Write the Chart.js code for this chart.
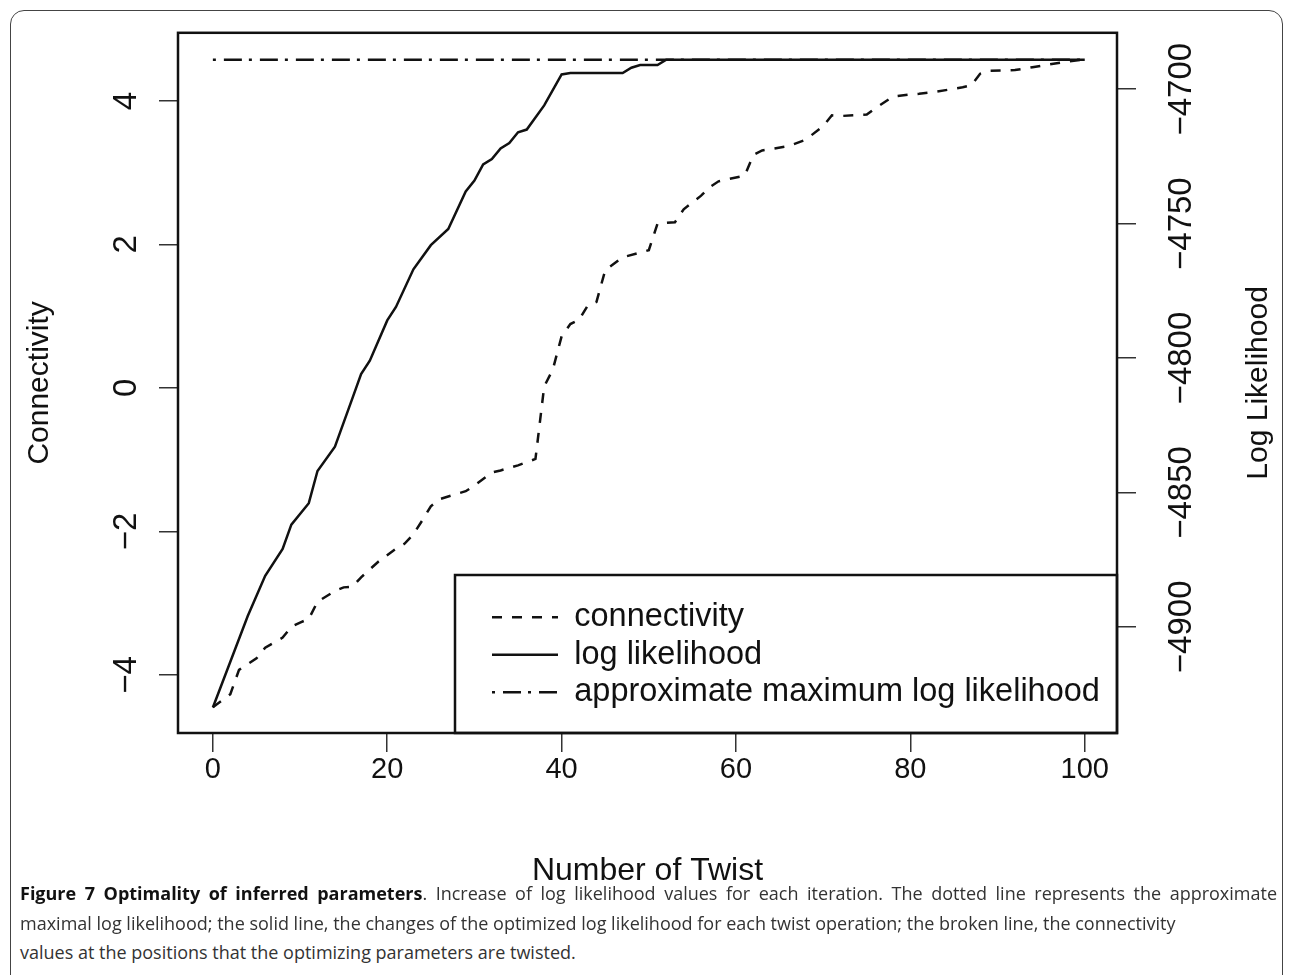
<!DOCTYPE html>
<html>
<head>
<meta charset="utf-8">
<script src="https://cdn.jsdelivr.net/npm/chart.js@4.4.0/dist/chart.umd.min.js"></script>
<style>
  body { margin: 0; background: #fff; width: 1293px; height: 975px; position: relative; overflow: hidden; }
  #frame { position: absolute; left: 10px; top: 10px; width: 1271px; height: 1000px; border: 1.5px solid #444; border-radius: 14px; }
  #myChart { position: absolute; left: 0; top: 0; }
  .cap { position: absolute; left: 20px; font-family: "Open Sans", sans-serif; font-size: 18px; line-height: 20px; white-space: nowrap; color: #333; }
  .cap b { color: #111; }
  .cap.full { width: 1257px; white-space: normal; text-align: justify; text-align-last: justify; }
</style>
</head>
<body>
<div id="frame"></div>
<canvas id="myChart" width="1293" height="900"></canvas>
<div class="cap full" style="top:883px"><b>Figure 7 Optimality of inferred parameters</b>. Increase of log likelihood values for each iteration. The dotted line represents the approximate</div>
<div class="cap" style="top:913px">maximal log likelihood; the solid line, the changes of the optimized log likelihood for each twist operation; the broken line, the connectivity</div>
<div class="cap" style="top:942px">values at the positions that the optimizing parameters are twisted.</div>
<script>
// connectivity at the twist positions (left axis)
var twistConn = [0, 2, 3, 5, 6, 7, 8, 9, 10, 11, 12, 14, 15, 16, 17, 19, 21, 22, 23, 24, 25, 26, 29, 30, 32, 33, 35, 37,
    38, 39, 40, 41, 42, 43, 44, 45, 47, 50, 51, 53, 54, 56, 57, 58, 61, 62, 63, 66, 68, 70, 71, 72, 75, 76, 78, 80,
    81, 83, 86, 87, 88, 89, 92, 94, 98, 100];
var connectivity = [-4.45, -4.27, -3.93, -3.77, -3.62, -3.55, -3.48, -3.33, -3.27, -3.22, -2.98, -2.83, -2.78, -2.77,
    -2.64, -2.42, -2.24, -2.17, -2.04, -1.85, -1.65, -1.55, -1.44, -1.36, -1.18, -1.15, -1.08, -0.99,
    0.02, 0.26, 0.72, 0.89, 0.95, 1.15, 1.2, 1.64, 1.82, 1.92, 2.29, 2.31, 2.49, 2.68, 2.8, 2.88, 2.96, 3.25,
    3.31, 3.37, 3.46, 3.65, 3.8, 3.79, 3.81, 3.9, 4.06, 4.09, 4.1, 4.13, 4.19, 4.22, 4.38, 4.42, 4.43, 4.47, 4.55, 4.58];

// optimized log likelihood (right axis)
var twistLL = [0, 4, 6, 8, 9, 11, 12, 14, 16, 17, 18, 20, 21, 23, 25, 27, 29, 30, 31, 32, 33, 34, 35, 36, 38, 40,
    41, 47, 48, 49, 51, 52, 100];
var logLik = [-4930, -4896, -4881, -4871, -4862, -4854, -4842, -4833, -4815, -4806, -4801, -4786, -4781, -4767,
    -4758, -4752, -4738, -4734, -4728, -4726, -4722, -4720, -4716, -4715, -4706, -4694.5, -4694, -4694, -4692,
    -4691, -4691, -4689, -4689];

// approximate maximum log likelihood
var twistMax = [0, 100];
var maxLogLik = [-4689, -4689];

var xTicks = [0, 20, 40, 60, 80, 100];
var connTicks = [-4, -2, 0, 2, 4];
var llTicks = [-4900, -4850, -4800, -4750, -4700];

var FONT = '"Liberation Sans", Arial, sans-serif';
Chart.defaults.font.family = FONT;
Chart.defaults.color = '#111';

function pts(xs, ys) {
    return xs.map(function (x, i) { return { x: x, y: ys[i] }; });
}
function fixTicks(list) {
    return function (scale) { scale.ticks = list.map(function (v) { return { value: v }; }); };
}
function minus(v) {
    return String(v).replace('-', '\u2212');
}

var tickGrid = { drawOnChartArea: false, drawTicks: true, tickLength: 19, color: '#333', lineWidth: 1.5 };

// box around the plot and the legend, plus the right title read bottom-to-top like R
var plotFrame = {
    id: 'plotFrame',
    afterLayout: function (chart) {
        var lg = chart.legend, a = chart.chartArea;
        lg.left = 487; lg.top = 596; lg.right = a.right; lg.bottom = a.bottom;
        lg.width = lg.right - lg.left; lg.height = lg.bottom - lg.top;
    },
    afterDraw: function (chart) {
        var ctx = chart.ctx, a = chart.chartArea;
        ctx.save();
        ctx.strokeStyle = '#111';
        ctx.lineWidth = 2.5;
        ctx.strokeRect(a.left, a.top, a.right - a.left, a.bottom - a.top);
        ctx.strokeRect(455, 575, a.right - 455, a.bottom - 575);
        var t = chart.scales.y2.options.title;
        ctx.translate(1259, (a.top + a.bottom) / 2);
        ctx.rotate(-Math.PI / 2);
        ctx.font = '30px ' + FONT;
        ctx.fillStyle = '#111';
        ctx.textAlign = 'center';
        ctx.textBaseline = 'middle';
        ctx.fillText(t.text, 0, 0);
        ctx.restore();
    }
};

// legend samples keep each dataset's dash pattern
function legendLabels(chart) {
    var items = Chart.defaults.plugins.legend.labels.generateLabels(chart);
    items.forEach(function (it) {
        var ds = chart.data.datasets[it.datasetIndex];
        it.lineDash = ds.borderDash || [];
        it.lineWidth = ds.borderWidth;
        it.strokeStyle = ds.borderColor;
    });
    return items;
}

var ctx = document.getElementById('myChart');

var myChart = new Chart(ctx, {
    type: 'line',
    data: {
        datasets: [
            {
                label: 'connectivity',
                data: pts(twistConn, connectivity),
                yAxisID: 'y',
                borderColor: '#111',
                borderWidth: 2.5,
                borderDash: [10, 10],
                pointRadius: 0,
                tension: 0
            },
            {
                label: 'log likelihood',
                data: pts(twistLL, logLik),
                yAxisID: 'y2',
                borderColor: '#111',
                borderWidth: 2.5,
                pointRadius: 0,
                tension: 0
            },
            {
                label: 'approximate maximum log likelihood',
                data: pts(twistMax, maxLogLik),
                yAxisID: 'y2',
                borderColor: '#111',
                borderWidth: 2.5,
                borderDash: [3, 8, 18, 7],
                pointRadius: 0,
                tension: 0
            }
        ]
    },
    options: {
        responsive: false,
        animation: false,
        layout: { padding: { top: 28, left: 0, right: 0, bottom: 0 } },
        plugins: {
            tooltip: { enabled: false },
            legend: {
                position: 'chartArea',
                align: 'start',
                labels: {
                    usePointStyle: true,
                    pointStyle: 'line',
                    pointStyleWidth: 66,
                    padding: 5,
                    color: '#111',
                    font: { size: 32.5 },
                    generateLabels: legendLabels
                }
            }
        },
        scales: {
            x: {
                type: 'linear',
                min: -4,
                max: 103.7,
                afterBuildTicks: fixTicks(xTicks),
                afterFit: function (s) { s.height = 167; },
                grid: tickGrid,
                border: { display: false },
                ticks: { font: { size: 29 }, color: '#111', padding: 1, minRotation: 0, maxRotation: 0 },
                title: { display: true, text: 'Number of Twist', color: '#111', font: { size: 32 }, padding: { top: 0, bottom: 10 } }
            },
            y: {
                position: 'left',
                min: -4.81,
                max: 4.95,
                afterBuildTicks: fixTicks(connTicks),
                afterFit: function (s) { s.width = 178; },
                grid: tickGrid,
                border: { display: false },
                ticks: { font: { size: 33 }, color: '#111', minRotation: 90, maxRotation: 90, crossAlign: 'center', padding: 13, callback: minus },
                title: { display: true, text: 'Connectivity', color: '#111', font: { size: 30 }, padding: { top: 22, bottom: 0 } }
            },
            y2: {
                position: 'right',
                min: -4939.5,
                max: -4679,
                afterBuildTicks: fixTicks(llTicks),
                afterFit: function (s) { s.width = 176; },
                grid: tickGrid,
                border: { display: false },
                ticks: { font: { size: 33 }, color: '#111', minRotation: 90, maxRotation: 90, crossAlign: 'center', padding: 0, callback: minus },
                title: { display: false, text: 'Log Likelihood' }
            }
        }
    },
    plugins: [plotFrame]
});
</script>
</body>
</html>
